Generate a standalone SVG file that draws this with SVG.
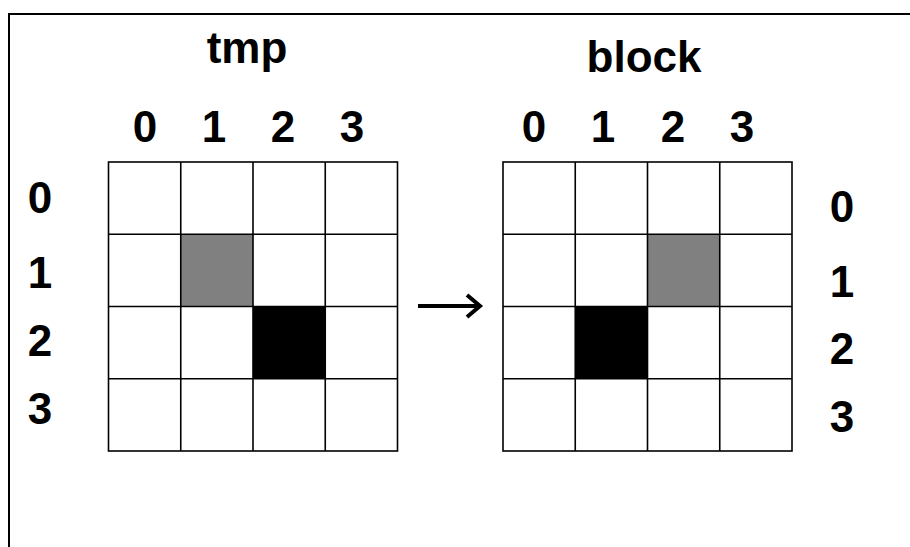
<svg xmlns="http://www.w3.org/2000/svg" width="910" height="547" viewBox="0 0 910 547">
<style>
.lbl{font-family:"Liberation Sans",Arial,sans-serif;font-weight:bold;font-size:44px;fill:#000;text-anchor:middle}
.cell{fill:#fff;stroke:#000;stroke-width:1.6}
.gray{fill:#808080}
.black{fill:#000}
.conn{stroke:#000;stroke-width:4;fill:none}
</style>
<rect x="0" y="0" width="910" height="547" fill="#fff"/>
<path d="M9,547 V14 H910" fill="none" stroke="#000" stroke-width="2"/>

<g id="tmp">
<text class="lbl" x="247" y="63">tmp</text>
<g id="tmp-cols">
<text class="lbl" x="145" y="142">0</text>
<text class="lbl" x="214" y="142">1</text>
<text class="lbl" x="283" y="142">2</text>
<text class="lbl" x="352" y="142">3</text>
</g>
<g id="tmp-rows">
<text class="lbl" x="40" y="213">0</text>
<text class="lbl" x="40" y="288">1</text>
<text class="lbl" x="40" y="356">2</text>
<text class="lbl" x="40" y="424">3</text>
</g>
<g id="tmp-grid">
<rect class="gray" x="180.75" y="234.25" width="72.25" height="72.25"/>
<rect class="black" x="253" y="306.5" width="72.25" height="72.25"/>
<rect x="108.5" y="162" width="289" height="289" fill="none" stroke="#000" stroke-width="1.6"/>
<path d="M180.75,162V451M253,162V451M325.25,162V451M108.5,234.25H397.5M108.5,306.5H397.5M108.5,378.75H397.5" stroke="#000" stroke-width="1.6" fill="none"/>
</g>
</g>

<g id="block">
<text class="lbl" x="644" y="72">block</text>
<g id="block-cols">
<text class="lbl" x="534" y="142">0</text>
<text class="lbl" x="603" y="142">1</text>
<text class="lbl" x="673" y="142">2</text>
<text class="lbl" x="742" y="142">3</text>
</g>
<g id="block-rows">
<text class="lbl" x="842" y="222">0</text>
<text class="lbl" x="842" y="297">1</text>
<text class="lbl" x="842" y="364">2</text>
<text class="lbl" x="842" y="432">3</text>
</g>
<g id="block-grid">
<rect class="gray" x="647.5" y="234.25" width="72.25" height="72.25"/>
<rect class="black" x="575.25" y="306.5" width="72.25" height="72.25"/>
<rect x="503" y="162" width="289" height="289" fill="none" stroke="#000" stroke-width="1.6"/>
<path d="M575.25,162V451M647.5,162V451M719.75,162V451M503,234.25H792M503,306.5H792M503,378.75H792" stroke="#000" stroke-width="1.6" fill="none"/>
</g>
</g>

<g id="connectors">
<path class="conn" d="M418,306 H480"/>
<path class="conn" d="M467,295 L480,306 L467,317"/>
</g>
</svg>
